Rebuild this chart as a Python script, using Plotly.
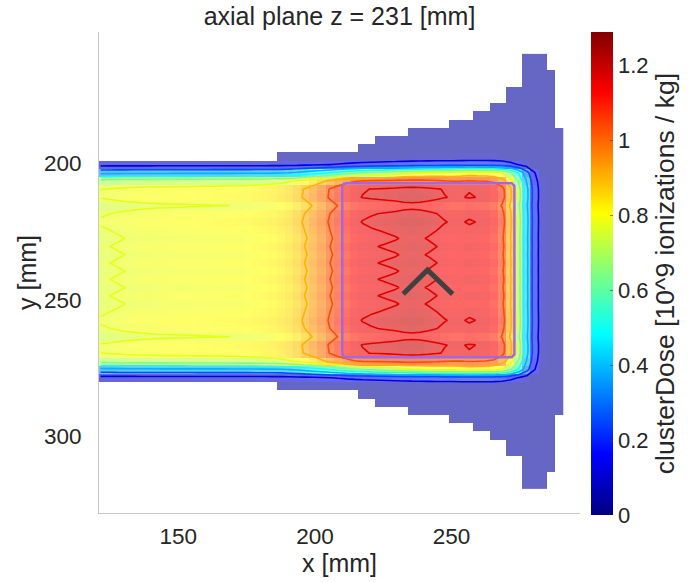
import numpy as np
import plotly.graph_objects as go

# ---------------- data ----------------
# voxel centres of the dose grid [mm]
x_vox = [121.5, 124.5, 127.5, 130.5, 133.5, 136.5, 139.5, 142.5, 145.5, 148.5,
         151.5, 154.5, 157.5, 160.5, 163.5, 166.5, 169.5, 172.5, 175.5, 178.5,
         181.5, 184.5, 187.5, 190.5, 193.5, 196.5, 199.5, 202.5, 205.5, 208.5,
         211.5, 214.5, 217.5, 220.5, 223.5, 226.5, 229.5, 232.5, 235.5, 238.5,
         241.5, 244.5, 247.5, 250.5, 253.5, 256.5, 259.5, 262.5, 265.5, 268.5,
         271.5, 274.5, 277.5, 280.5, 283.5, 286.5, 289.5]
y_vox = [161.5, 164.5, 167.5, 170.5, 173.5, 176.5, 179.5, 182.5, 185.5, 188.5,
         191.5, 194.5, 197.5, 200.5, 203.5, 206.5, 209.5, 212.5, 215.5, 218.5,
         221.5, 224.5, 227.5, 230.5, 233.5, 236.5, 239.5, 242.5, 245.5, 248.5,
         251.5, 254.5, 257.5, 260.5, 263.5, 266.5, 269.5, 272.5, 275.5, 278.5,
         281.5, 284.5, 287.5, 290.5, 293.5, 296.5, 299.5, 302.5, 305.5, 308.5,
         311.5, 314.5, 317.5]

# central-axis depth dose per column [10^9 ionizations / kg]
depth_dose = [0.768, 0.772, 0.777, 0.782, 0.785, 0.788, 0.790, 0.792, 0.793, 0.794,
              0.795, 0.796, 0.797, 0.798, 0.799, 0.800, 0.801, 0.803, 0.806, 0.810,
              0.815, 0.822, 0.832, 0.848, 0.870, 0.905, 0.940, 0.980, 1.030, 1.070,
              1.105, 1.135, 1.148, 1.155, 1.160, 1.165, 1.170, 1.178, 1.182, 1.178,
              1.170, 1.160, 1.148, 1.140, 1.142, 1.150, 1.144, 1.140, 1.120, 1.060,
              0.920, 0.700, 0.420, 0.180, 0.060, 0.030, 0.020]

# relative lateral profile per row
lateral_profile = [0, 0, 0, 0, 0, 0, 0, 0, 0, 0,
                   0, 0, 0.03, 0.11, 0.45, 0.90, 1.005, 1.012, 0.965, 1.0,
                   1.012, 1.0, 0.988, 1.0, 0.988, 1.0, 0.988, 1.0, 0.988, 1.0,
                   0.988, 1.0, 1.012, 1.0, 0.965, 1.012, 1.005, 0.90, 0.45, 0.11,
                   0.03, 0, 0, 0, 0, 0, 0, 0, 0, 0,
                   0, 0, 0]

# widening of the lateral penumbra with depth (per column)
penumbra_gain = [1.0] * 23 + [1.02, 1.04, 1.06, 1.08, 1.10, 1.12, 1.15, 1.18, 1.21,
                              1.24, 1.27, 1.30, 1.33, 1.36, 1.39, 1.42, 1.45, 1.48,
                              1.51, 1.54, 1.56, 1.58] + [1.6] * 12
penumbra_rows = [12, 13, 14, 38, 39, 40]

# extent of the displayed low-dose halo: first and last row shown per column
halo_first_row = [13] * 22 + [12] * 10 + [11] * 2 + [10] * 4 + [9] * 5 + [8] * 3 + \
                 [7] * 2 + [6] * 2 + [4] * 2 + [0] * 3 + [2] + [9]
halo_last_row = [39] * 22 + [40] * 10 + [41] * 2 + [42] * 4 + [43] * 5 + [44] * 3 + \
                [45] * 2 + [46] * 2 + [48] * 2 + [52] * 3 + [50] + [43]
halo_dose = 0.04

dose_max = 1.288
iso_levels = [0.1288, 0.2576, 0.3864, 0.5152, 0.644, 0.7728, 0.9016, 1.0304, 1.1592]
cbar_ticks = [0, 0.2, 0.4, 0.6, 0.8, 1.0, 1.2]
cbar_labels = ['0', '0.2', '0.4', '0.6', '0.8', '1', '1.2']

# target contour and isocentre marker
target_x = [211, 272, 273, 273, 272, 211, 210, 210, 211]
target_y = [207.3, 207.3, 208.3, 270.0, 271.0, 271.0, 270.0, 208.3, 207.3]
iso_x = [232.3, 241.2, 250.4]
iso_y = [247.9, 239.1, 247.9]

# ---------------- build figure ----------------
jet_pos = [0, 0.125, 0.375, 0.625, 0.875, 1.0]
jet_rgb = [(0, 0, 0.5), (0, 0, 1), (0, 1, 1), (1, 1, 0), (1, 0, 0), (0.5, 0, 0)]
alpha = 0.6


def rgb_str(c):
    return 'rgb(%d,%d,%d)' % tuple(int(round(v)) for v in c)


jet_scale = [[p, rgb_str([255 * v for v in c])] for p, c in zip(jet_pos, jet_rgb)]
jet_blend = [[p, rgb_str([alpha * 255 * v + (1 - alpha) * 255 for v in c])]
             for p, c in zip(jet_pos, jet_rgb)]


def jet_color(t):
    arr = np.array(jet_rgb)
    return rgb_str([255 * np.interp(t, jet_pos, arr[:, i]) for i in range(3)])


D = np.array(depth_dose)
L = np.array(lateral_profile)
dose = np.outer(L, D)
for r in penumbra_rows:
    dose[r, :] *= np.array(penumbra_gain)

heat = np.full(dose.shape, np.nan)
for j in range(len(x_vox)):
    a, b = halo_first_row[j], halo_last_row[j]
    heat[a:b + 1, j] = np.maximum(dose[a:b + 1, j], halo_dose)

fig = go.Figure()
fig.add_trace(go.Heatmap(x=x_vox, y=y_vox, z=heat, colorscale=jet_blend,
                         zmin=0, zmax=dose_max, showscale=False, hoverinfo='skip'))

for lvl in iso_levels:
    fig.add_trace(go.Contour(
        x=x_vox, y=y_vox, z=dose, autocontour=False,
        contours=dict(start=lvl, end=lvl, size=1, coloring='none'),
        line=dict(color=jet_color(lvl / dose_max), width=1.6, smoothing=0),
        showscale=False, hoverinfo='skip'))

fig.add_trace(go.Scatter(x=target_x, y=target_y, mode='lines',
                         line=dict(color='rgb(160,105,225)', width=2.5),
                         hoverinfo='skip'))
fig.add_trace(go.Scatter(x=iso_x, y=iso_y, mode='lines',
                         line=dict(color='rgb(64,64,64)', width=5),
                         hoverinfo='skip'))

# colour bar (opaque jet)
fig.add_trace(go.Scatter(
    x=[200], y=[165], mode='markers', hoverinfo='skip',
    marker=dict(size=1, opacity=0, color=[0], colorscale=jet_scale,
                cmin=0, cmax=dose_max, showscale=True,
                colorbar=dict(thickness=22, thicknessmode='pixels',
                              len=483, lenmode='pixels',
                              x=(591 - 99) / 481, xanchor='left', xpad=0,
                              y=-2 / 481, yanchor='bottom', ypad=0,
                              outlinewidth=0,
                              tickvals=cbar_ticks, ticktext=cbar_labels,
                              ticks='inside', ticklen=3,
                              tickcolor='rgba(60,60,60,0.6)',
                              tickfont=dict(size=22),
                              title=dict(text='clusterDose [10^9 ionizations / kg]',
                                         side='right', font=dict(size=26.5))))))

fig.update_layout(
    width=692, height=582,
    margin=dict(l=99, r=112, t=32, b=69, autoexpand=False),
    plot_bgcolor='white', paper_bgcolor='white',
    showlegend=False,
    font=dict(family='Liberation Sans, Arial, sans-serif', color='rgb(38,38,38)'),
    title=dict(text='axial plane z = 231 [mm]', x=339.5 / 692, xanchor='center',
               y=1 - 16 / 582, yanchor='middle', yref='container',
               font=dict(size=25)),
    xaxis=dict(range=[121, 297], tickvals=[150, 200, 250], showgrid=False,
               zeroline=False, showline=True, linecolor='rgb(200,200,200)',
               automargin=False,
               ticks='', tickfont=dict(size=22.5), ticklabelstandoff=3,
               title=dict(text='x [mm]', font=dict(size=25), standoff=4)),
    yaxis=dict(range=[328, 152], tickvals=[200, 250, 300], showgrid=False,
               zeroline=False, showline=True, linecolor='rgb(200,200,200)',
               automargin=False,
               ticks='', tickfont=dict(size=22.5), ticklabelstandoff=12,
               title=dict(text='y [mm]', font=dict(size=25), standoff=0)),
)

fig.write_html('out.html')
